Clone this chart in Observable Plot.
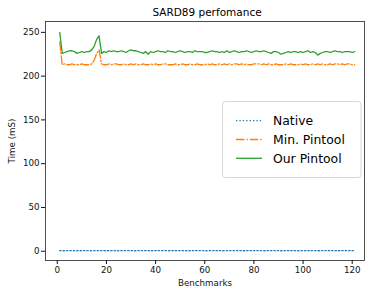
<!DOCTYPE html>
<html><head><meta charset="utf-8">
<script src="https://cdn.jsdelivr.net/npm/d3@7"></script>
<script src="https://cdn.jsdelivr.net/npm/@observablehq/plot@0.6"></script>
<style>body{margin:0;background:#fff}</style>
</head><body><div id="chart"></div>
<script>
const title = "SARD89 perfomance";
const xLabel = "Benchmarks";
const yLabel = "Time (mS)";
const xTicks = [0, 20, 40, 60, 80, 100, 120];
const yTicks = [0, 50, 100, 150, 200, 250];
const seriesNames = ["Native", "Min. Pintool", "Our Pintool"];
const seriesColors = ["#1f77b4", "#ff7f0e", "#2ca02c"];
const seriesDash = ["1.3,2.1", "8.4,2.1,1.3,2.1", "none"];

const native = [
0.6,0.6,0.5,0.6,0.6,0.7,0.6,0.6,0.5,0.6, 0.6,0.6,0.6,0.5,0.6,0.7,0.6,0.6,0.6,0.5,
0.6,0.6,0.6,0.6,0.5,0.6,0.6,0.7,0.6,0.6, 0.6,0.5,0.6,0.6,0.6,0.6,0.6,0.5,0.6,0.6,
0.6,0.7,0.6,0.6,0.6,0.5,0.6,0.6,0.6,0.6, 0.6,0.6,0.5,0.6,0.6,0.6,0.7,0.6,0.6,0.6,
0.5,0.6,0.6,0.6,0.6,0.6,0.6,0.5,0.6,0.6, 0.6,0.6,0.7,0.6,0.6,0.5,0.6,0.6,0.6,0.6,
0.6,0.6,0.6,0.5,0.6,0.6,0.6,0.7,0.6,0.6, 0.5,0.6,0.6,0.6,0.6,0.6,0.6,0.5,0.6,0.6,
0.6,0.6,0.6,0.7,0.6,0.5,0.6,0.6,0.6,0.6, 0.6,0.6,0.6,0.5,0.6,0.6,0.6,0.6,0.7,0.6,
0.6];
const minPintool = [
239,213,214,213,213,214,213,213,213,214, 213,213,213,214,218,226,230,214,213,213,
214,213,214,214,213,213,214,213,213,214, 213,214,213,213,214,213,213,214,213,214,
213,213,214,214,213,213,213,214,213,213, 214,213,213,214,213,213,214,213,213,213,
214,213,214,213,213,214,213,214,213,214, 213,214,214,213,214,213,214,213,213,214,
214,214,213,214,213,214,213,213,214,213, 213,213,214,213,214,213,213,213,214,213,
214,213,213,214,213,214,213,214,213,213, 214,213,214,214,213,214,213,214,214,213,
213];
const ourPintool = [
250,226,227,228,229,229,228,226,227,228, 227,228,228,230,234,242,246,226,228,227,
229,228,229,228,228,229,228,227,229,230, 229,229,228,227,226,228,225,228,227,228,
229,228,228,227,229,228,228,227,228,229, 228,227,228,228,227,229,228,228,228,227,
227,228,229,228,228,227,228,227,229,227, 228,229,228,227,228,228,229,228,227,228,
229,228,228,229,228,227,226,228,228,227, 225,226,227,228,227,228,228,227,228,227,
228,229,227,228,227,224,226,227,228,228, 227,228,229,228,228,227,228,228,228,227,
228];

const seriesValues = [native, minPintool, ourPintool];
const tables = seriesValues.map((vals, s) => vals.map((v, i) => ({bench: i + 1, time: v, series: seriesNames[s]})));

const plot = Plot.plot({
  width: 365, height: 292,
  marginLeft: 45, marginRight: 1, marginTop: 21, marginBottom: 32,
  style: {fontFamily: "DejaVu Sans", fontSize: "8.7px", color: "#111", background: "#fff", overflow: "visible"},
  x: {domain: [-4.8, 125]},
  y: {domain: [-10.6, 262.4]},
  marks: [
    Plot.frame({stroke: "#222", strokeWidth: 0.8}),
    Plot.axisX({ticks: xTicks, tickSize: 4, tickPadding: 2, label: xLabel, labelAnchor: "center", labelArrow: "none", labelOffset: 25}),
    Plot.axisY({ticks: yTicks, tickSize: 4, tickPadding: 2, label: yLabel, labelAnchor: "center", labelArrow: "none", labelOffset: 37}),
    ...tables.map((t, s) => Plot.line(t, {x: "bench", y: "time", stroke: seriesColors[s], strokeWidth: 1.3, strokeDasharray: seriesDash[s]})),
    Plot.text([title], {frameAnchor: "top", dy: -6, dx: 2, lineAnchor: "bottom", fontSize: 10.5, fill: "#000"})
  ]
});

// legend (center right, inside the axes)
const svg = d3.select(plot.tagName.toLowerCase() === "svg" ? plot : plot.querySelector("svg"));
const lg = svg.append("g").attr("font-family", "DejaVu Sans").attr("font-size", "12.4px").attr("text-anchor", "start");
lg.append("rect").attr("x", 222.5).attr("y", 101.5).attr("width", 138.5).attr("height", 76)
  .attr("rx", 3).attr("fill", "#fff").attr("fill-opacity", 0.8).attr("stroke", "#ccc").attr("stroke-width", 0.8);
seriesNames.forEach((name, i) => {
  const yy = 120.7 + i * 18.8;
  lg.append("line").attr("x1", 236).attr("x2", 262).attr("y1", yy).attr("y2", yy)
    .attr("stroke", seriesColors[i]).attr("stroke-width", 1.3).attr("stroke-dasharray", seriesDash[i]);
  lg.append("text").attr("x", 273).attr("y", yy).attr("dy", "0.36em").attr("text-anchor", "start").attr("fill", "#000").text(name);
});

document.getElementById("chart").appendChild(plot);
</script>
</body></html>
